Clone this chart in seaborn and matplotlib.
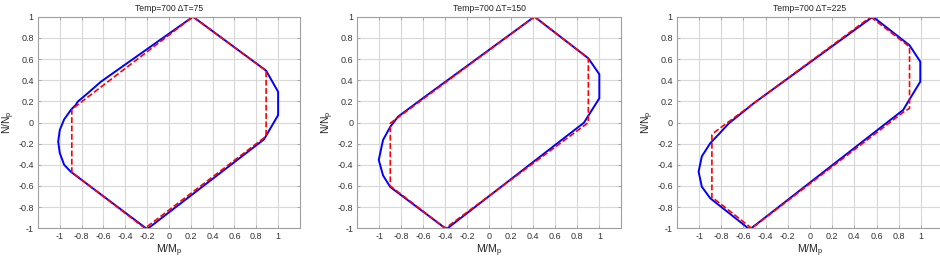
import matplotlib
matplotlib.use("Agg")
import matplotlib.pyplot as plt
import seaborn as sns

# --- datos ---
titles = ["Temp=700 \u0394T=75", "Temp=700 \u0394T=150", "Temp=700 \u0394T=225"]

tick_vals = [-1, -0.8, -0.6, -0.4, -0.2, 0, 0.2, 0.4, 0.6, 0.8, 1]
tick_labels = ["-1", "-0.8", "-0.6", "-0.4", "-0.2", "0", "0.2", "0.4", "0.6", "0.8", "1"]

# dT = 75
blue1_x = [0.22, 0.89, 1.0, 1.0, 0.87, -0.19, -0.21, -0.90, -0.96, -1.0, -1.015, -1.0, -0.96, -0.894, -0.854, -0.836, -0.745, -0.623, 0.22]
blue1_y = [1.0, 0.49, 0.29, 0.07, -0.16, -1.0, -1.0, -0.465, -0.40, -0.29, -0.18, -0.07, 0.03, 0.125, 0.166, 0.197, 0.276, 0.386, 1.0]
red1_x = [0.22, 0.89, 0.89, -0.22, -0.89, -0.89, 0.22]
red1_y = [1.0, 0.49, -0.13, -1.0, -0.47, 0.125, 1.0]

# dT = 150
blue2_x = [0.41, 0.90, 1.0, 1.0, 0.86, -0.38, -0.40, -0.90, -0.966, -1.005, -0.966, -0.90, -0.83, -0.585, 0.41]
blue2_y = [1.0, 0.607, 0.456, 0.229, -0.002, -1.0, -1.0, -0.61, -0.50, -0.354, -0.165, -0.04, 0.055, 0.244, 1.0]
red2_x = [0.41, 0.90, 0.90, -0.40, -0.90, -0.90, 0.41]
red2_y = [1.0, 0.607, 0.0, -1.0, -0.60, -0.007, 1.0]

# dT = 225
blue3_x = [0.567, 0.898, 0.995, 0.995, 0.84, -0.53, -0.557, -0.90, -0.976, -1.005, -0.976, -0.90, -0.81, -0.734, -0.51, 0.567]
blue3_y = [1.0, 0.73, 0.575, 0.386, 0.118, -1.0, -1.0, -0.716, -0.607, -0.465, -0.32, -0.196, -0.096, -0.01, 0.18, 1.0]
red3_x = [0.55, 0.57, 0.898, 0.898, 0.845, -0.526, -0.855, -0.885, -0.885, -0.855, 0.55]
red3_y = [1.0, 0.98, 0.716, 0.134, 0.10, -1.0, -0.73, -0.716, -0.118, -0.087, 1.0]

blues = [(blue1_x, blue1_y), (blue2_x, blue2_y), (blue3_x, blue3_y)]
reds = [(red1_x, red1_y), (red2_x, red2_y), (red3_x, red3_y)]

# --- estilo ---
sns.set_theme(style="whitegrid")
plt.rcParams["font.family"] = ["Liberation Sans", "DejaVu Sans"]
plt.rcParams["mathtext.fontset"] = "custom"
plt.rcParams["mathtext.rm"] = "Liberation Sans"
plt.rcParams["mathtext.it"] = "Liberation Sans"

fig = plt.figure(figsize=(9.4, 2.61), dpi=100)

# posiciones de los ejes (fracción de figura)
boxes = [
    [0.0404, 0.1253, 0.2787, 0.8107],
    [0.3801, 0.1253, 0.2809, 0.8107],
    [0.7202, 0.1253, 0.2830, 0.8107],
]

for i in range(3):
    ax = fig.add_axes(boxes[i])
    bx, by = blues[i]
    rx, ry = reds[i]
    sns.lineplot(x=bx, y=by, sort=False, estimator=None, color="#0000ff", linewidth=1.4, ax=ax)
    sns.lineplot(x=rx, y=ry, sort=False, estimator=None, color="#ff0000", linewidth=1.2,
                 linestyle=(0, (3.5, 1.5)), ax=ax)
    ax.set_xlim(-1.2, 1.2)
    ax.set_ylim(-1, 1)
    ax.set_xticks(tick_vals)
    ax.set_xticklabels(tick_labels)
    ax.set_yticks(tick_vals)
    ax.set_yticklabels(tick_labels)
    ax.grid(True, color="#d8d8d8", linewidth=0.8)
    ax.set_facecolor("white")
    for s in ax.spines.values():
        s.set_visible(True)
        s.set_color("#a0a0a0")
        s.set_linewidth(0.8)
    ax.tick_params(axis="both", which="both", labelsize=6.5, colors="#333333",
                   direction="in", length=2, width=0.6, pad=3,
                   top=True, right=True, bottom=True, left=True)
    ax.tick_params(color="#a0a0a0")
    ax.set_title(titles[i], fontsize=6.2, pad=4, color="#222222")
    ax.set_xlabel("M/M$_\\mathrm{p}$", fontsize=7.5, labelpad=1, color="#222222")
    ax.set_ylabel("N/N$_\\mathrm{p}$", fontsize=7.5, labelpad=1, color="#222222")

fig.savefig("out.png", dpi=100)
